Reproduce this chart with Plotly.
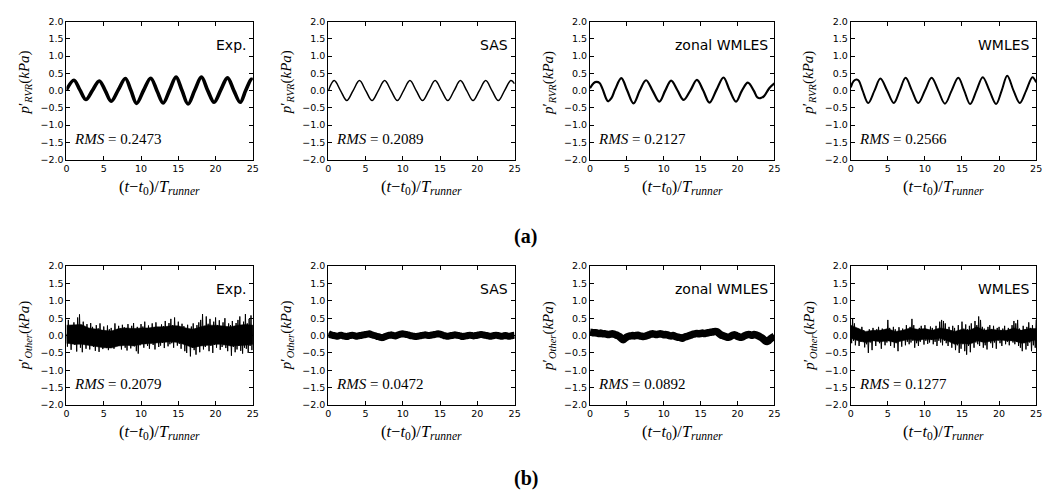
import numpy as np
import plotly.graph_objects as go

# ---------------- data ----------------
panel_names = ["Exp.", "SAS", "zonal WMLES", "WMLES"]
rms_rvr = ["0.2473", "0.2089", "0.2127", "0.2566"]
rms_other = ["0.2079", "0.0472", "0.0892", "0.1277"]
x_ticks = [0, 5, 10, 15, 20, 25]
y_ticks = [-2.0, -1.5, -1.0, -0.5, 0.0, 0.5, 1.0, 1.5, 2.0]

# Row (a): p'_RVR key points (extrema and crossings)
exp_rvr_t = [0, 1.0, 1.8, 2.6, 3.5, 4.4, 5.2, 6.0, 6.95, 7.9, 8.65, 9.4, 10.35, 11.3, 12.15,
             12.97, 13.85, 14.7, 15.5, 16.3, 17.2, 18.1, 18.95, 19.8, 20.7, 21.6, 22.45,
             23.3, 24.05, 24.8, 25]
exp_rvr_p = [0.02, 0.30, 0.02, -0.26, 0.01, 0.28, 0.0, -0.31, 0.02, 0.35, 0.0, -0.37, 0.01,
             0.36, -0.01, -0.36, 0.02, 0.39, 0.0, -0.39, 0.01, 0.39, 0.0, -0.34, 0.02, 0.37,
             0.0, -0.34, 0.01, 0.33, 0.31]

sas_rvr_t = [0, 0.8, 1.65, 2.49, 3.34, 4.19, 5.03, 5.88, 6.72, 7.57, 8.42, 9.27, 10.11, 10.96,
             11.8, 12.65, 13.5, 14.34, 15.19, 16.04, 16.88, 17.73, 18.58, 19.42, 20.27, 21.12,
             21.96, 22.81, 23.65, 24.5, 25]
sas_rvr_p = [-0.01, 0.29, 0.0, -0.29, 0.0, 0.29, 0.0, -0.29, 0.0, 0.29, 0.0, -0.29, 0.0, 0.29,
             0.0, -0.29, 0.0, 0.29, 0.0, -0.29, 0.0, 0.29, 0.0, -0.29, 0.0, 0.29, 0.0, -0.29,
             0.0, 0.29, 0.20]

zwm_rvr_t = [0, 0.5, 0.9, 1.3, 1.7, 2.45, 2.9, 3.4, 4.25, 5.05, 5.9, 6.75, 7.6, 8.5, 9.4, 10.2,
             11.0, 11.85, 12.7, 13.6, 14.5, 15.35, 16.2, 17.15, 18.1, 18.95, 19.8, 20.6, 21.4,
             22.2, 22.7, 23.1, 23.6, 24.3, 25]
zwm_rvr_p = [0.07, 0.22, 0.25, 0.22, 0.05, -0.31, -0.22, 0.03, 0.36, 0.0, -0.37, 0.0, 0.30,
             -0.01, -0.32, 0.0, 0.29, 0.01, -0.27, 0.0, 0.31, 0.0, -0.35, 0.02, 0.38, 0.0,
             -0.32, 0.0, 0.23, 0.0, -0.20, -0.22, -0.16, 0.07, 0.21]

wm_rvr_t = [0, 0.4, 0.8, 1.1, 1.6, 2.35, 3.2, 4.0, 4.9, 5.8, 6.6, 7.4, 8.25, 9.1, 10.0, 10.9,
            11.8, 12.7, 13.6, 14.5, 15.3, 16.1, 16.95, 17.8, 18.7, 19.6, 20.35, 21.1, 21.95,
            22.8, 23.65, 24.5, 25]
wm_rvr_p = [0.09, 0.28, 0.32, 0.28, 0.0, -0.36, 0.0, 0.35, 0.0, -0.36, 0.0, 0.37, 0.0, -0.36,
            0.0, 0.37, 0.0, -0.38, 0.0, 0.37, 0.0, -0.39, 0.0, 0.39, 0.0, -0.39, 0.0, 0.43,
            0.0, -0.36, 0.0, 0.39, 0.24]

# Row (b): p'_Other, spikes sampled evenly over 0..25
exp_other = [
    0.05, -0.32, 0.45, -0.18, 0.22, -0.41, 0.30, -0.12,
    0.38, -0.27, 0.15, -0.46, 0.52, -0.20, 0.61, -0.35,
    0.27, -0.48, 0.40, -0.15, 0.18, -0.38, 0.33, -0.25,
    0.12, -0.40, 0.36, -0.22, 0.25, -0.33, 0.08, -0.44,
    0.30, -0.18, 0.21, -0.47, 0.35, -0.28, 0.14, -0.39,
    0.26, -0.15, 0.10, -0.36, 0.29, -0.42, 0.18, -0.24,
    0.22, -0.31, 0.05, -0.38, 0.35, -0.20, 0.12, -0.29,
    0.28, -0.22, 0.20, -0.40, 0.31, -0.17, 0.24, -0.35,
    0.15, -0.43, 0.33, -0.26, 0.09, -0.37, 0.28, -0.20,
    0.36, -0.31, 0.18, -0.45, 0.25, -0.52, 0.14, -0.28,
    0.33, -0.19, 0.26, -0.35, 0.40, -0.24, 0.12, -0.30,
    0.29, -0.38, 0.16, -0.22, 0.35, -0.27, 0.21, -0.40,
    0.38, -0.15, 0.24, -0.33, 0.11, -0.29, 0.32, -0.21,
    0.27, -0.36, 0.42, -0.18, 0.19, -0.31, 0.36, -0.25,
    0.48, -0.22, 0.30, -0.35, 0.52, -0.16, 0.25, -0.29,
    0.40, -0.24, 0.18, -0.38, 0.34, -0.20, 0.27, -0.45,
    0.22, -0.50, 0.31, -0.28, 0.14, -0.60, 0.26, -0.35,
    0.35, -0.42, 0.20, -0.55, 0.30, -0.31, 0.38, -0.48,
    0.45, -0.25, 0.62, -0.40, 0.28, -0.33, 0.55, -0.22,
    0.34, -0.45, 0.48, -0.30, 0.21, -0.50, 0.40, -0.27,
    0.52, -0.35, 0.30, -0.22, 0.44, -0.41, 0.26, -0.33,
    0.38, -0.28, 0.50, -0.36, 0.22, -0.45, 0.35, -0.25,
    0.30, -0.58, 0.42, -0.33, 0.18, -0.48, 0.36, -0.40,
    0.45, -0.30, 0.55, -0.44, 0.28, -0.52, 0.40, -0.35,
    0.62, -0.38, 0.35, -0.50, 0.48, -0.30, 0.58, -0.42,
    0.30]
# dense core of the Exp. signal (upper / lower edge, one value per time unit)
exp_core_hi = [0.30, 0.30, 0.32, 0.22, 0.18, 0.15, 0.13, 0.20, 0.22, 0.20, 0.22, 0.22, 0.25,
               0.25, 0.28, 0.28, 0.22, 0.18, 0.25, 0.30, 0.30, 0.28, 0.25, 0.30, 0.32, 0.30]
exp_core_lo = [-0.22, -0.25, -0.25, -0.28, -0.32, -0.35, -0.36, -0.30, -0.28, -0.30, -0.25,
               -0.22, -0.22, -0.20, -0.18, -0.20, -0.28, -0.35, -0.30, -0.28, -0.25, -0.25,
               -0.30, -0.30, -0.28, -0.25]

sas_other = [
    0.06, 0.03, 0.01, 0.00, -0.01, -0.02, 0.00, 0.01, -0.01, -0.02, -0.03, -0.01, 0.00,
    0.01, 0.00, -0.02, -0.01, 0.00, 0.01, 0.02, 0.03, 0.04, 0.05, 0.03, 0.01, 0.00,
    -0.02, -0.03, -0.05, -0.06, -0.04, -0.02, 0.00, 0.01, 0.02, 0.00, -0.01, 0.01, 0.03,
    0.04, 0.05, 0.04, 0.03, 0.02, 0.00, -0.01, -0.02, -0.03, -0.02, -0.01, 0.00, 0.01,
    0.02, 0.01, 0.00, 0.01, 0.02, 0.03, 0.04, 0.05, 0.04, 0.02, 0.00, -0.01, -0.02, -0.01,
    0.00, 0.01, 0.02, 0.01, 0.00, -0.01, -0.03, -0.02, -0.01, 0.00, 0.01, 0.00, -0.01,
    0.00, 0.01, 0.02, 0.03, 0.02, 0.01, 0.00, -0.01, -0.02, -0.01, 0.00, 0.01, 0.00,
    -0.01, -0.02, -0.01, 0.00, -0.01, -0.02, -0.01, 0.00, 0.01]

zwm_other = [
    0.10, 0.09, 0.08, 0.08, 0.07, 0.06, 0.07, 0.05, 0.05, 0.04, 0.03, 0.04, 0.05,
    0.04, 0.02, 0.00, -0.03, -0.08, -0.12, -0.08, -0.04, -0.02, -0.01, 0.00, -0.01,
    0.00, 0.01, -0.01, -0.02, -0.03, -0.02, 0.00, 0.02, 0.04, 0.05, 0.04, 0.03,
    0.04, 0.05, 0.04, 0.02, 0.03, 0.02, 0.00, -0.01, 0.00, -0.02, -0.04, -0.05,
    -0.06, -0.08, -0.05, -0.03, -0.02, 0.00, 0.02, 0.04, 0.05, 0.06, 0.05, 0.06,
    0.07, 0.06, 0.07, 0.08, 0.09, 0.10, 0.11, 0.12, 0.11, 0.06, 0.02, 0.00,
    -0.02, -0.04, -0.05, -0.03, 0.00, 0.02, 0.01, -0.02, -0.04, -0.05, -0.03, 0.00,
    0.02, 0.03, 0.02, 0.01, 0.03, 0.02, 0.00, -0.03, -0.06, -0.10, -0.15, -0.17,
    -0.14, -0.09, -0.05, -0.02]

wm_other = [
    0.10, -0.22, 0.48, -0.15, 0.35, -0.28, 0.12, -0.10,
    0.20, -0.30, 0.08, -0.18, 0.25, -0.12, 0.15, -0.34,
    0.10, -0.25, 0.05, -0.50, 0.18, -0.20, 0.12, -0.42,
    0.22, -0.15, 0.08, -0.30, 0.18, -0.12, 0.25, -0.22,
    0.14, -0.38, 0.20, -0.10, 0.06, -0.28, 0.16, -0.20,
    0.45, -0.15, 0.22, -0.30, 0.12, -0.18, 0.25, -0.35,
    0.18, -0.22, 0.10, -0.45, 0.24, -0.15, 0.08, -0.32,
    0.20, -0.12, 0.15, -0.28, 0.30, -0.18, 0.12, -0.25,
    0.25, -0.20, 0.48, -0.15, 0.30, -0.35, 0.18, -0.22,
    0.12, -0.30, 0.22, -0.18, 0.28, -0.10, 0.15, -0.26,
    0.30, -0.15, 0.18, -0.24, 0.10, -0.20, 0.26, -0.12,
    0.22, -0.25, 0.15, -0.18, 0.28, -0.30, 0.12, -0.15,
    0.40, -0.20, 0.45, -0.28, 0.42, -0.15, 0.35, -0.22,
    0.18, -0.30, 0.25, -0.12, 0.15, -0.35, 0.28, -0.20,
    0.22, -0.42, 0.10, -0.28, 0.30, -0.50, 0.15, -0.38,
    0.40, -0.25, 0.20, -0.45, 0.32, -0.55, 0.18, -0.30,
    0.28, -0.48, 0.35, -0.22, 0.15, -0.35, 0.42, -0.20,
    0.30, -0.25, 0.55, -0.30, 0.45, -0.18, 0.25, -0.35,
    0.20, -0.28, 0.12, -0.40, 0.25, -0.15, 0.30, -0.22,
    0.18, -0.35, 0.28, -0.20, 0.10, -0.38, 0.22, -0.15,
    0.25, -0.22, 0.15, -0.30, 0.20, -0.12, 0.28, -0.25,
    0.12, -0.18, 0.22, -0.28, 0.18, -0.15, 0.30, -0.20,
    0.42, -0.25, 0.35, -0.18, 0.45, -0.30, 0.20, -0.35,
    0.15, -0.45, 0.28, -0.22, 0.18, -0.40, 0.25, -0.30,
    0.38, -0.20, 0.22, -0.45, 0.30, -0.28, 0.18, -0.35,
    0.45]
wm_core_hi = [0.30, 0.22, 0.12, 0.15, 0.15, 0.20, 0.12, 0.15, 0.22, 0.18, 0.20, 0.15, 0.22,
              0.18, 0.12, 0.18, 0.15, 0.25, 0.15, 0.18, 0.15, 0.15, 0.22, 0.15, 0.20, 0.20]
wm_core_lo = [-0.08, -0.15, -0.20, -0.15, -0.18, -0.15, -0.20, -0.15, -0.10, -0.15, -0.10,
              -0.12, -0.08, -0.15, -0.25, -0.22, -0.25, -0.15, -0.20, -0.15, -0.12, -0.15,
              -0.15, -0.22, -0.18, -0.12]

# ---------------- layout geometry ----------------
W, H = 1061, 498
col_px = [(64, 252), (328, 516), (592, 778), (855, 1042)]
row_px = [(16, 157), (266, 408)]
ytitle_dy = [-8, 0]

def fx(px):
    return px / W

def fy(py):
    return 1 - py / H

def even_t(vals):
    return list(np.linspace(0, 25, len(vals)))

series = [
    (exp_rvr_t, exp_rvr_p, 3.6, "spline", None),
    (sas_rvr_t, sas_rvr_p, 1.5, "spline", None),
    (zwm_rvr_t, zwm_rvr_p, 2.2, "spline", None),
    (wm_rvr_t, wm_rvr_p, 2.0, "spline", None),
    (even_t(exp_other), exp_other, 1.0, "linear", (exp_core_hi, exp_core_lo)),
    (even_t(sas_other), sas_other, 7.0, "spline", None),
    (even_t(zwm_other), zwm_other, 7.5, "spline", None),
    (even_t(wm_other), wm_other, 1.0, "linear", (wm_core_hi, wm_core_lo)),
]

fig = go.Figure()
layout = {}
annotations = []
tick_font = dict(family="DejaVu Sans", size=9.5, color="black")
math_font = dict(family="Liberation Serif", size=15, color="black")

for i, (t, p, w, shape, core) in enumerate(series):
    r, c = divmod(i, 4)
    k = i + 1
    xn = "x" if k == 1 else f"x{k}"
    yn = "y" if k == 1 else f"y{k}"
    xa = "xaxis" if k == 1 else f"xaxis{k}"
    ya = "yaxis" if k == 1 else f"yaxis{k}"
    x0, x1 = col_px[c]
    y0, y1 = row_px[r]
    if core is not None:
        hi, lo = core
        tc = even_t(hi)
        fig.add_trace(go.Scatter(x=tc + tc[::-1], y=list(hi) + list(lo)[::-1], mode="lines",
                                 fill="toself", fillcolor="black",
                                 line=dict(color="black", width=0.5),
                                 xaxis=xn, yaxis=yn, showlegend=False, hoverinfo="skip"))
    fig.add_trace(go.Scatter(x=list(t), y=list(p), mode="lines",
                             line=dict(color="black", width=w, shape=shape),
                             xaxis=xn, yaxis=yn, showlegend=False, hoverinfo="skip"))
    common = dict(showline=True, linecolor="black", linewidth=1, mirror="ticks",
                  ticks="inside", ticklen=4, tickwidth=1, tickcolor="black",
                  showgrid=False, zeroline=False, tickfont=tick_font)
    layout[xa] = dict(domain=[fx(x0), fx(x1)], range=[0, 25], tickvals=x_ticks,
                      anchor=yn, **common)
    layout[ya] = dict(domain=[fy(y1), fy(y0)], range=[-2, 2], tickvals=y_ticks,
                      tickformat=".1f", anchor=xn, **common)
    # panel label
    annotations.append(dict(x=24.4, y=1.33, xref=xn, yref=yn, text=panel_names[c],
                            showarrow=False, xanchor="right", yanchor="middle",
                            font=dict(family="DejaVu Sans", size=14, color="black")))
    # RMS
    rms = rms_rvr[c] if r == 0 else rms_other[c]
    annotations.append(dict(x=0.8, y=-1.40, xref=xn, yref=yn,
                            text=f"<i>RMS</i> = {rms}", showarrow=False,
                            xanchor="left", yanchor="middle",
                            font=dict(family="Liberation Serif", size=15, color="black")))
    # x title
    annotations.append(dict(x=(x0 + x1) / 2 / W, y=fy(y1 + 28), xref="paper", yref="paper",
                            text="(<i>t</i>−<i>t</i><sub>0</sub>)/<i>T</i><sub><i>runner</i></sub>",
                            showarrow=False, xanchor="center", yanchor="middle",
                            font=dict(family="Liberation Serif", size=16.5, color="black")))
    # y title
    sub = "RVR" if r == 0 else "Other"
    annotations.append(dict(x=fx(x0 - 42), y=fy((y0 + y1) / 2 + ytitle_dy[r]),
                            xref="paper", yref="paper",
                            text=f"<i>p</i>′<sub><i>{sub}</i></sub>(<i>kPa</i>)",
                            showarrow=False, textangle=-90, xanchor="center", yanchor="middle",
                            font=math_font))

annotations.append(dict(x=fx(527), y=fy(236), xref="paper", yref="paper", text="<b>(a)</b>",
                        showarrow=False, xanchor="center", yanchor="middle",
                        font=dict(family="Liberation Serif", size=20, color="black")))
annotations.append(dict(x=fx(527), y=fy(483), xref="paper", yref="paper", text="<b>(b)</b>",
                        showarrow=False, xanchor="center", yanchor="middle",
                        font=dict(family="Liberation Serif", size=20, color="black")))

fig.update_layout(width=W, height=H, margin=dict(l=0, r=0, t=0, b=0),
                  paper_bgcolor="white", plot_bgcolor="white", showlegend=False,
                  annotations=annotations, **layout)

fig.write_html("out.html", config={"displayModeBar": False},
               post_script="document.body.style.margin='0';document.body.style.overflow='hidden';")
